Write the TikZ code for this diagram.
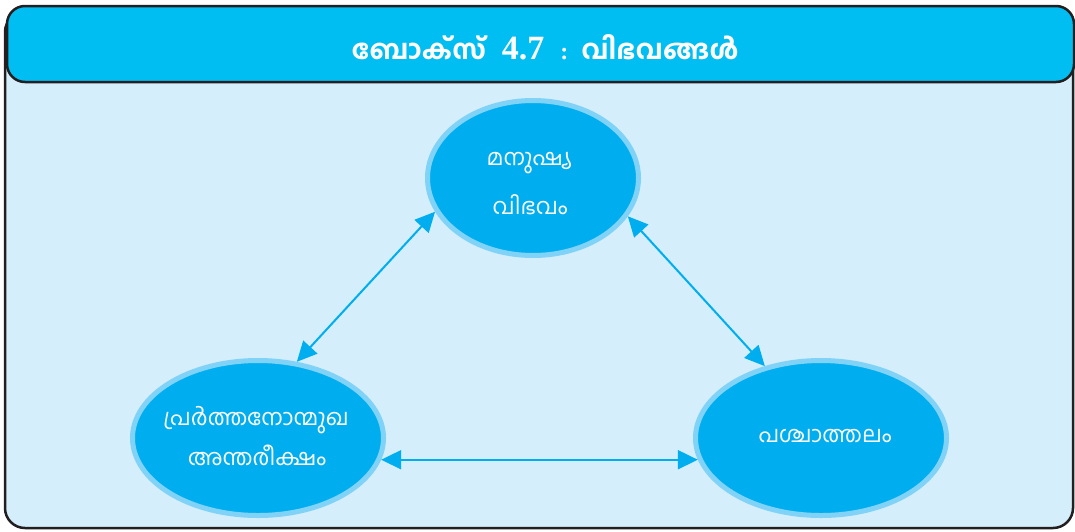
\documentclass[tikz,border=0pt]{standalone}
\usepackage{fontspec}
\usetikzlibrary{shapes.geometric,arrows.meta}
\newfontfamily\mlfont[Script=Malayalam]{Hind Kochi}
\newfontfamily\mlbold[Script=Malayalam]{Hind Kochi Bold}
\newfontfamily\digfont{Liberation Serif Bold}
\definecolor{outerbg}{HTML}{D4EEFB}
\definecolor{headbg}{HTML}{00BDF2}
\definecolor{ellfill}{HTML}{00AEEF}
\definecolor{ellring}{HTML}{80D3F7}
\definecolor{edgedark}{HTML}{231F20}
\tikzset{
  resource/.style={ellipse, fill=ellfill, draw=ellring, line width=5pt, inner sep=0pt},
  labeltext/.style={text=white, font=\mlfont\fontsize{22.5}{22.5}\selectfont, inner sep=0pt},
  link/.style={draw=ellfill, line width=2pt, {Triangle[length=20pt,width=19pt]}-{Triangle[length=20pt,width=19pt]}}
}
\begin{document}
\begin{tikzpicture}[x=1pt,y=-1pt]
\useasboundingbox (0,0) rectangle (1075,531);
\draw[fill=outerbg, draw=edgedark, line width=2.5pt, rounded corners=20pt] (5,12) rectangle (1073,528);
\draw[fill=headbg, draw=edgedark, line width=2.5pt, rounded corners=18pt] (7,6) rectangle (1074,82);
\node[text=white, inner sep=0pt] (title) at (545,47) {\mlbold\fontsize{27}{27}\selectfont ബോക്സ്\kern16pt{\digfont\fontsize{34}{34}\selectfont 4.7}\kern16pt{\digfont\fontsize{24}{24}\selectfont :}\kern13pt വിഭവങ്ങൾ};
\node[resource, minimum width=211pt, minimum height=155pt] (top) at (533,178) {};
\node[resource, minimum width=251pt, minimum height=155pt] (bl) at (258,438) {};
\node[resource, minimum width=251pt, minimum height=155pt] (br) at (821,438) {};
\node[labeltext] (t1) at (529,163) {മനുഷ്യ};
\node[labeltext] (t2) at (530,205) {വിഭവം};
\node[labeltext] (b1) at (256,420) {പ്രർത്തനോന്മുഖ};
\node[labeltext] (b2) at (257,455) {അന്തരീക്ഷം};
\node[labeltext] (r1) at (825,436) {പശ്ചാത്തലം};
\path[link] (bl.63) -- (top.199);
\path[link] (top.-22) -- (br.128);
\path[link] (bl.-10) -- (br.190);
\end{tikzpicture}
\end{document}
